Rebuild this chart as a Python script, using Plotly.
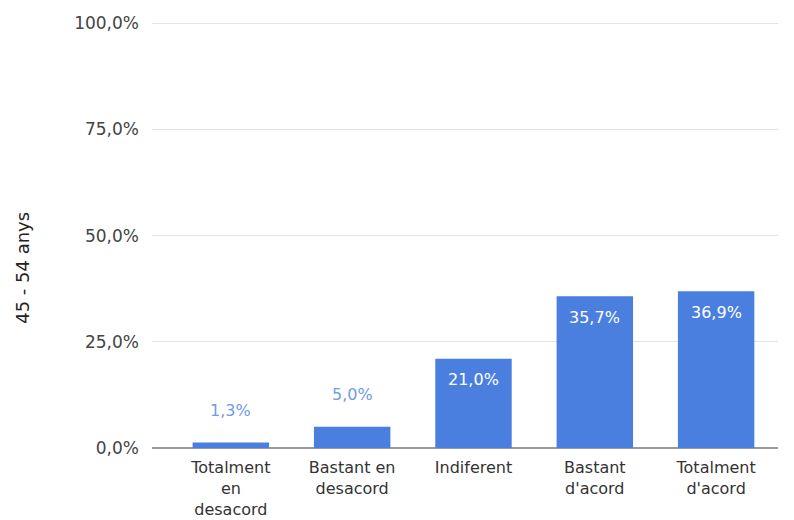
import plotly.graph_objects as go

categories = ["Totalment<br>en<br>desacord", "Bastant en<br>desacord", "Indiferent", "Bastant<br>d'acord", "Totalment<br>d'acord"]
values = [1.3, 5.0, 21.0, 35.7, 36.9]
y_ticks = [0, 25, 50, 75, 100]
y_title = "45 - 54 anys"

BAR = "#4a7fdf"
FONT = "DejaVu Sans, Liberation Sans, Arial, sans-serif"
x_idx = list(range(len(categories)))


def pct(v):
    return f"{v:.1f}".replace(".", ",") + "%"


fig = go.Figure()
fig.add_trace(go.Bar(x=x_idx, y=values, marker=dict(color=BAR, line=dict(width=0)),
                     width=0.63, hoverinfo="skip"))

for i, v in zip(x_idx, values):
    outside = v < 10
    fig.add_annotation(x=i, y=v, text=pct(v), showarrow=False, xref="x", yref="y",
                       yanchor="middle", yshift=32 if outside else -21,
                       font=dict(family=FONT, size=16,
                                 color="#6f9ce6" if outside else "#ffffff"))

fig.add_annotation(text=y_title, xref="paper", yref="paper", x=-0.208, y=0.4225,
                   textangle=-90, showarrow=False, xanchor="center", yanchor="middle",
                   font=dict(family=FONT, size=18, color="#222"))

fig.update_layout(
    width=794, height=520,
    margin=dict(l=144, r=24, t=14, b=80),
    plot_bgcolor="white", paper_bgcolor="white",
    showlegend=False,
    font=dict(family=FONT, size=16, color="#444"),
    xaxis=dict(range=[-0.65, 4.51], tickvals=x_idx, ticktext=categories, showgrid=False,
               ticks="", tickfont=dict(family=FONT, size=16, color="#333"),
               showline=False, zeroline=False, automargin=False, ticklabelstandoff=8),
    yaxis=dict(range=[0, 100.3], tickvals=y_ticks, ticktext=[pct(t) for t in y_ticks],
               showgrid=True, gridcolor="#e3e3e3", gridwidth=1, zeroline=True,
               zerolinecolor="#9a9a9a", zerolinewidth=2, ticks="", ticklabelstandoff=12,
               tickfont=dict(family=FONT, size=17, color="#444"), automargin=False),
)

fig.write_html("out.html")
